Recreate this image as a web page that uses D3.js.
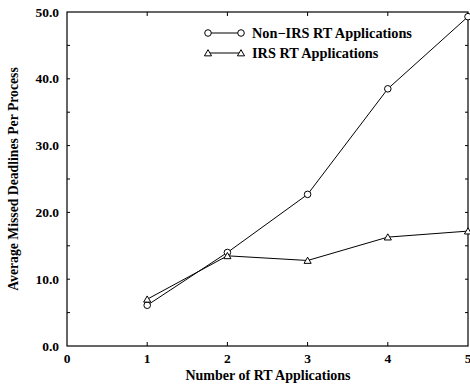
<!DOCTYPE html>
<html><head><meta charset="utf-8">
<script src="https://cdn.jsdelivr.net/npm/d3@7"></script>
<style>body{margin:0;background:#fff}svg{display:block}text{font-family:"Liberation Serif","Times New Roman",serif;font-weight:bold;fill:#000}</style>
</head><body><svg id="c" width="470" height="387"></svg>
<script>
const xValues = [1, 2, 3, 4, 5];
const nonIrs = [6.1, 14.0, 22.7, 38.5, 49.3];
const irs = [7.0, 13.5, 12.8, 16.3, 17.2];
const xTicks = [0, 1, 2, 3, 4, 5];
const yTicks = [0, 10, 20, 30, 40, 50];
const yMinor = [5, 15, 25, 35, 45];
const seriesNames = ["Non\u2212IRS RT Applications", "IRS RT Applications"];

const svg = d3.select("#c");
const L = 67, R = 468, T = 12, B = 346;
const x = d3.scaleLinear().domain([0, 5]).range([L, R]);
const y = d3.scaleLinear().domain([0, 50]).range([B, T]);

svg.append("rect").attr("x", L).attr("y", T).attr("width", R - L).attr("height", B - T)
  .attr("fill", "none").attr("stroke", "#000").attr("stroke-width", 1.2);

const g = svg.append("g").attr("stroke", "#000").attr("stroke-width", 1);
xTicks.slice(1, -1).forEach(v => {
  g.append("line").attr("x1", x(v)).attr("x2", x(v)).attr("y1", B).attr("y2", B - 4);
  g.append("line").attr("x1", x(v)).attr("x2", x(v)).attr("y1", T).attr("y2", T + 4);
});
yTicks.concat(yMinor).filter(v => v > 0 && v < 50).forEach(v => {
  g.append("line").attr("x1", L).attr("x2", L + 3).attr("y1", y(v)).attr("y2", y(v));
  g.append("line").attr("x1", R).attr("x2", R - 3).attr("y1", y(v)).attr("y2", y(v));
});

svg.selectAll(".xl").data(xTicks).enter().append("text")
  .attr("x", d => x(d)).attr("y", B + 17).attr("text-anchor", "middle")
  .attr("font-size", 13.5).text(d => d);
svg.selectAll(".yl").data(yTicks).enter().append("text")
  .attr("x", L - 8).attr("y", d => y(d) + 4.5).attr("text-anchor", "end")
  .attr("font-size", 13.5).text(d => d.toFixed(1));

svg.append("text").attr("x", 268).attr("y", 380).attr("text-anchor", "middle")
  .attr("font-size", 14).text("Number of RT Applications");
svg.append("text").attr("transform", `translate(18,${(T + B) / 2}) rotate(-90)`)
  .attr("text-anchor", "middle").attr("font-size", 13.7).text("Average Missed Deadlines Per Process");

const line = d3.line().x((d, i) => x(xValues[i])).y(d => y(d));
svg.append("path").attr("d", line(nonIrs)).attr("fill", "none").attr("stroke", "#000").attr("stroke-width", 1);
svg.append("path").attr("d", line(irs)).attr("fill", "none").attr("stroke", "#000").attr("stroke-width", 1);

const tri = d3.symbol().type(d3.symbolTriangle).size(22);
function circ(sel, cx, cy) {
  sel.append("circle").attr("cx", cx).attr("cy", cy).attr("r", 3.3)
    .attr("fill", "#fff").attr("stroke", "#000").attr("stroke-width", 1);
}
function triangle(sel, cx, cy) {
  sel.append("path").attr("d", tri()).attr("transform", `translate(${cx},${cy + 0.8})`)
    .attr("fill", "#fff").attr("stroke", "#000").attr("stroke-width", 1);
}
nonIrs.forEach((v, i) => circ(svg, x(xValues[i]), y(v)));
irs.forEach((v, i) => triangle(svg, x(xValues[i]), y(v)));

const ly = [33, 53];
svg.append("line").attr("x1", 208).attr("x2", 241).attr("y1", ly[0]).attr("y2", ly[0]).attr("stroke", "#000");
circ(svg, 208, ly[0]); circ(svg, 241, ly[0]);
svg.append("line").attr("x1", 208).attr("x2", 241).attr("y1", ly[1]).attr("y2", ly[1]).attr("stroke", "#000");
triangle(svg, 208, ly[1]); triangle(svg, 241, ly[1]);
seriesNames.forEach((n, i) => svg.append("text").attr("x", 252).attr("y", ly[i] + 4.5)
  .attr("font-size", 14.3).text(n));
</script></body></html>
